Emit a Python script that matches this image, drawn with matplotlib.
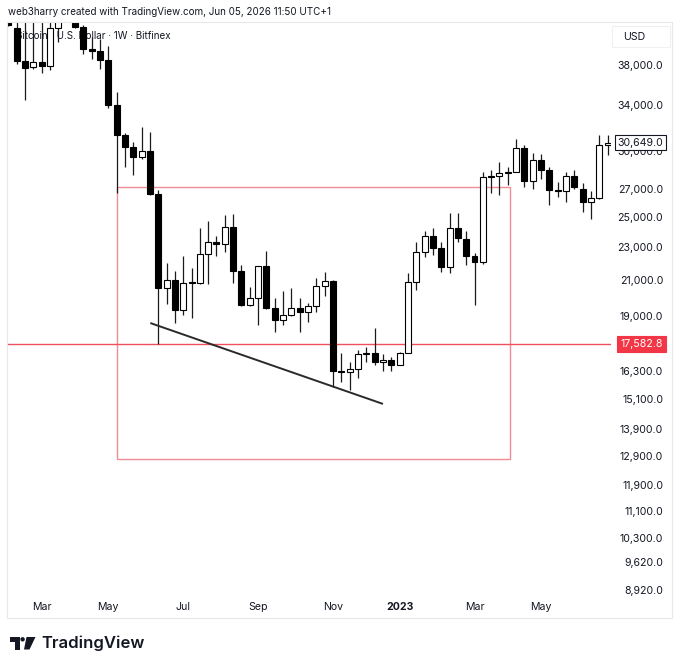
import matplotlib
matplotlib.use('Agg')
import matplotlib.pyplot as plt
import matplotlib.patches as mpatches
from matplotlib.ticker import NullLocator
from matplotlib.transforms import blended_transform_factory
import numpy as np
import pandas as pd

plt.rcParams['font.family'] = ['Inter', 'DejaVu Sans']

# ---------------- data (weekly BTC/USD, Bitfinex) ----------------
week_start = pd.date_range('2022-02-07', periods=73, freq='W-MON')

opens = [43400, 42100, 38400, 37750, 38350, 37850, 42100, 46800, 46400, 42200,
         39700, 39450, 38500, 34000, 31300, 30300, 29450, 29950, 26600, 20550,
         21000, 19300, 20850, 20780, 22550, 23300, 23200, 24300, 21520, 19560,
         19960, 21800, 19400, 18790, 19050, 19420, 19200, 19550, 20620, 20900,
         16300, 16280, 16420, 17100, 17150, 16740, 16830, 16610, 17150, 20850,
         22700, 23700, 22920, 21750, 24250, 23500, 22400, 22050, 27890, 27950,
         28200, 28270, 30250, 27580, 29230, 28430, 26900, 26800, 27930, 27000,
         26020, 26320, 30430]
highs = [45800, 43500, 43500, 45400, 43000, 43500, 48200, 48100, 47200, 42400,
         41000, 40800, 40000, 35300, 31500, 30700, 32000, 31600, 26900, 22000,
         21500, 22400, 21700, 24250, 24700, 23700, 25100, 25150, 21870, 20570,
         21830, 22730, 19950, 20360, 20500, 19960, 19700, 21100, 21450, 21000,
         17150, 16720, 17300, 17450, 18380, 17100, 16950, 17180, 21400, 23300,
         24000, 24220, 23300, 25250, 25250, 24000, 22600, 28270, 28430, 29070,
         28650, 30970, 30430, 29830, 29700, 28650, 27500, 28250, 28430, 27400,
         26800, 31320, 31320]
lows = [42300, 38100, 34500, 37600, 37200, 37500, 40500, 45200, 42100, 39200,
        38600, 37600, 33700, 26700, 28700, 28050, 29300, 26550, 17580, 19650,
        18630, 19050, 18900, 20750, 20750, 22400, 22650, 20800, 19520, 19540,
        18530, 19370, 18180, 18530, 19000, 18150, 18680, 19230, 20070, 15600,
        15830, 15480, 16010, 16720, 16570, 16300, 16340, 16570, 17150, 20410,
        22360, 22480, 21440, 21390, 23300, 21870, 19580, 21900, 26690, 26550,
        27280, 28250, 27140, 27000, 27730, 25810, 26400, 26020, 27000, 25320,
        24830, 26250, 29640]
closes = [42450, 38400, 37700, 38350, 37850, 42100, 46800, 46400, 42200, 39700,
          39450, 38500, 34000, 31300, 30300, 29450, 29950, 26600, 20550, 21000,
          19300, 20800, 20780, 22550, 23300, 23200, 24300, 21520, 19560, 19960,
          21800, 19400, 18790, 19050, 19420, 19190, 19550, 20620, 20900, 16300,
          16280, 16420, 17100, 17150, 16740, 16830, 16610, 17150, 20850, 22700,
          23700, 22920, 21750, 24250, 23560, 22420, 22050, 27890, 27950, 28200,
          28270, 30250, 27580, 29230, 28430, 26900, 26830, 27930, 27120, 26020,
          26320, 30430, 30649]

price_ticks = [38000, 34000, 30000, 27000, 25000, 23000, 21000, 19000, 16300,
               15100, 13900, 12900, 11900, 11100, 10300, 9620, 8920]
month_labels = ['Mar', 'May', 'Jul', 'Sep', 'Nov', '2023', 'Mar', 'May']
month_dates = ['2022-03-07', '2022-05-02', '2022-07-04', '2022-09-05',
               '2022-11-07', '2023-01-02', '2023-03-06', '2023-05-01']

support_level = 17582.8
last_price = 30649.0
box_bars = (13.0, 60.25)          # bar positions of the drawn range box
box_prices = (12790, 27120)
trend_bars = (17.05, 45.0)
trend_prices = (18630, 14900)

# ---------------- figure ----------------
W, H = 680, 669
fig = plt.figure(figsize=(W / 100, H / 100), dpi=100)
fig.patch.set_facecolor('white')

def fx(px):
    return px / W

def fy(py):
    return 1 - py / H

AX_L, AX_R = 8, 611
ax = fig.add_axes([fx(AX_L), fy(597), fx(AX_R) - fx(AX_L), fy(22) - fy(597)])
ax.set_facecolor('white')

x = np.arange(len(opens))
o = np.array(opens, float)
h = np.array(highs, float)
l = np.array(lows, float)
c = np.array(closes, float)
up = c >= o
bottoms = np.minimum(o, c)
heights = np.abs(c - o)

ax.vlines(x, l, h, color='#1b1b1b', lw=0.9, zorder=3)
ax.bar(x[up], heights[up], bottom=bottoms[up], width=0.72, facecolor='white',
       edgecolor='#000000', linewidth=0.8, zorder=4)
ax.bar(x[~up], heights[~up], bottom=bottoms[~up], width=0.72, facecolor='#000000',
       edgecolor='#000000', linewidth=0.8, zorder=4)

ax.set_yscale('log')
ax.set_ylim(8741, 42790)
ax.set_xlim(-0.05, 72.4)

# range box
rect = mpatches.Rectangle((box_bars[0], box_prices[0]), box_bars[1] - box_bars[0],
                          box_prices[1] - box_prices[0], fill=False,
                          edgecolor='#ef8c96', lw=1.0, zorder=2)
ax.add_patch(rect)

# support line
ax.axhline(support_level, color='#f0505e', lw=1.0, zorder=2)

# trendline
ax.plot(trend_bars, trend_prices, color='#2a2a2a', lw=1.4, zorder=5,
        solid_capstyle='butt')

# y axis
ax.yaxis.tick_right()
ax.set_yticks(price_ticks)
ax.set_yticklabels([f'{p:,.1f}' for p in price_ticks])
ax.yaxis.set_minor_locator(NullLocator())
ax.tick_params(axis='y', length=0, pad=37.5, labelsize=7.6, colors='#131722')
for lab in ax.get_yticklabels():
    lab.set_horizontalalignment('right')

# x axis
dates_list = list(week_start.strftime('%Y-%m-%d'))
tick_pos = [dates_list.index(d) for d in month_dates]
ax.set_xticks(tick_pos)
ax.set_xticklabels(month_labels)
ax.tick_params(axis='x', length=0, pad=3.5, labelsize=7.6, colors='#131722')
for lab in ax.get_xticklabels():
    if lab.get_text() == '2023':
        lab.set_fontweight('bold')

for s in ax.spines.values():
    s.set_visible(False)

# price labels on the price axis
tr = blended_transform_factory(ax.transAxes, ax.transData)
label_x = (663 - AX_L) / (AX_R - AX_L)
ax.text(label_x, last_price, f'{last_price:,.1f}', transform=tr, ha='right',
        va='center', fontsize=7.6, color='#131722', zorder=10, clip_on=False,
        bbox=dict(boxstyle='square,pad=0.25', facecolor='white',
                  edgecolor='#131722', lw=0.8))
ax.text(label_x, support_level, f'{support_level:,.1f}', transform=tr,
        ha='right', va='center', fontsize=7.6, color='white', zorder=10,
        clip_on=False,
        bbox=dict(boxstyle='square,pad=0.3', facecolor='#f23645',
                  edgecolor='#f23645', lw=0.8))

# legend text inside pane
ax.text((16 - AX_L) / (AX_R - AX_L), fy(36), 'Bitcoin / U.S. Dollar · 1W · Bitfinex',
        transform=blended_transform_factory(ax.transAxes, fig.transFigure),
        ha='left', va='center', fontsize=7.1, color='#131722', zorder=1)

# header & frame
fig.text(fx(8), fy(12), 'web3harry created with TradingView.com, Jun 05, 2026 11:50 UTC+1',
         ha='left', va='center', fontsize=7.1, color='#131722')
fig.add_artist(mpatches.Rectangle((fx(7), fy(618)), fx(672) - fx(7), fy(22) - fy(618),
                                  transform=fig.transFigure, fill=False,
                                  edgecolor='#e6e8ee', lw=0.8))
fig.add_artist(mpatches.Rectangle((fx(612), fy(47)), fx(670) - fx(612), fy(26) - fy(47),
                                  transform=fig.transFigure, fill=False,
                                  edgecolor='#eef0f3', lw=0.8))
fig.text(fx(623), fy(36.5), 'USD', ha='left', va='center', fontsize=7.6, color='#131722')

# TradingView logo
logo_col = '#131722'
fig.add_artist(mpatches.Rectangle((fx(10), fy(641.5)), fx(19) - fx(10), fy(637) - fy(641.5),
                                  transform=fig.transFigure, color=logo_col, lw=0))
fig.add_artist(mpatches.Rectangle((fx(15), fy(649.5)), fx(19.5) - fx(15), fy(637) - fy(649.5),
                                  transform=fig.transFigure, color=logo_col, lw=0))
fig.add_artist(mpatches.Ellipse((fx(22.6), fy(639.3)), fx(4.4), 4.4 / H,
                                transform=fig.transFigure, color=logo_col, lw=0))
fig.add_artist(mpatches.Polygon([(fx(26.5), fy(637)), (fx(35.5), fy(637)),
                                 (fx(29.5), fy(649.5)), (fx(24.0), fy(649.5))],
                                closed=True, transform=fig.transFigure,
                                color=logo_col, lw=0))
fig.text(fx(41), fy(643.5), 'TradingView', ha='left', va='center', fontsize=12,
         fontweight='semibold', color=logo_col)

fig.savefig('out.png', dpi=100, facecolor='white')
